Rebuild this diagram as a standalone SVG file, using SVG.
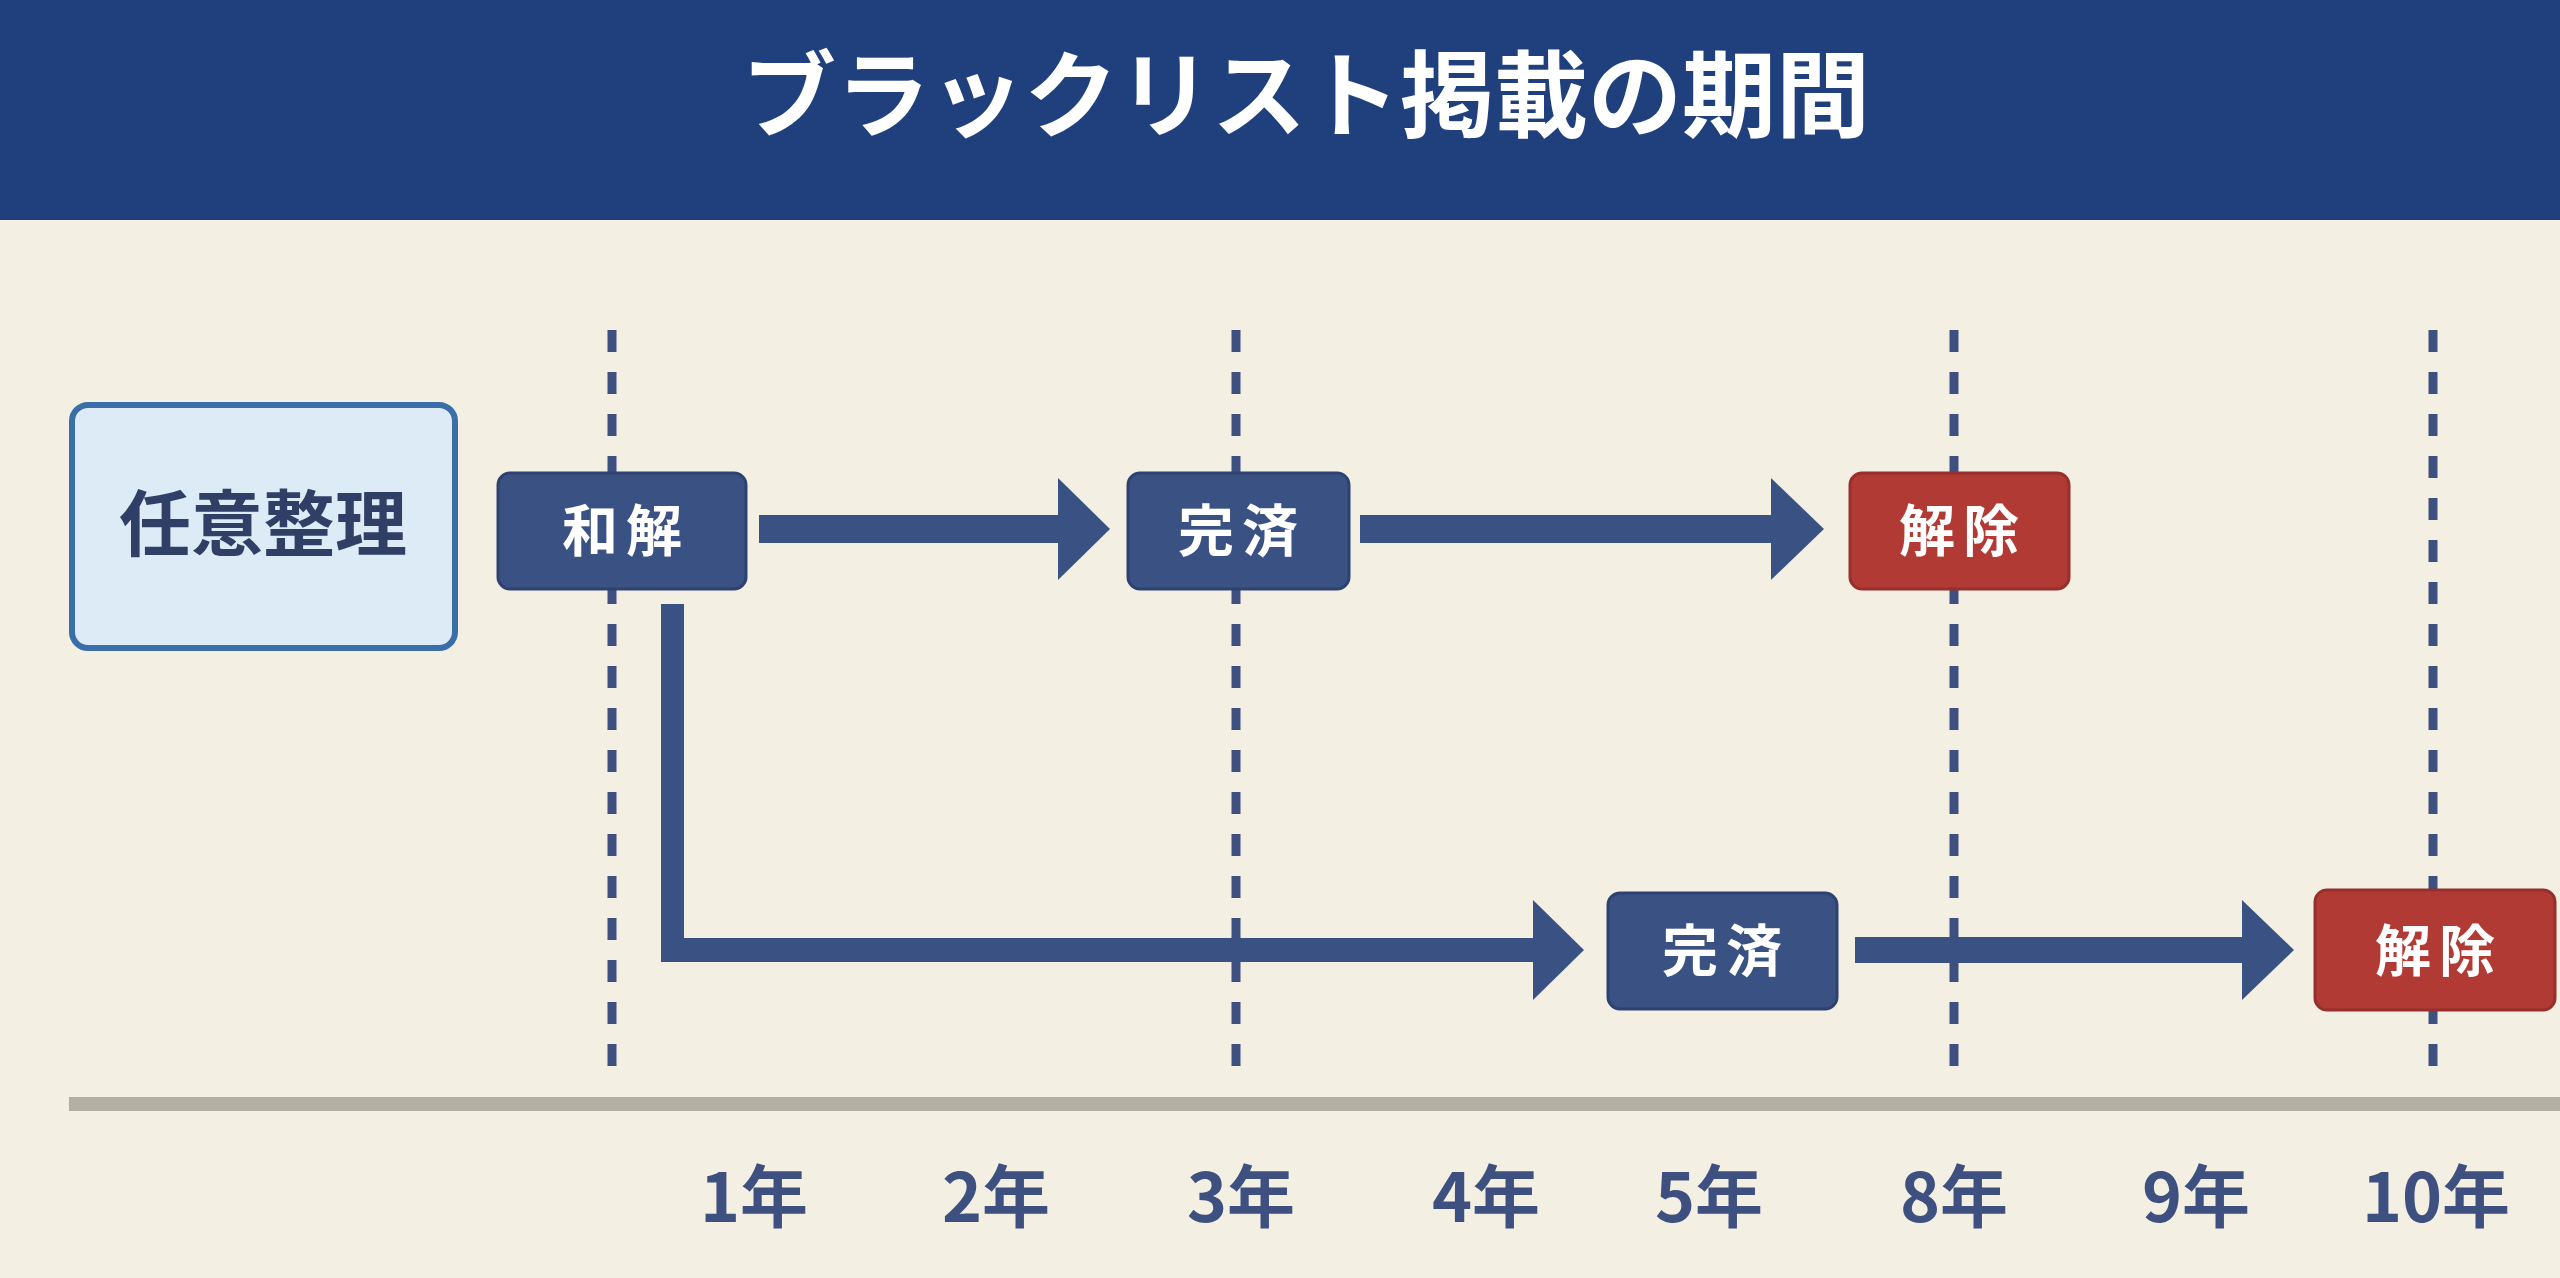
<svg xmlns="http://www.w3.org/2000/svg" width="2560" height="1278" viewBox="0 0 2560 1278">
<style>
.t{font-family:"Noto Sans CJK JP","Liberation Sans",sans-serif;font-weight:bold;text-anchor:middle}
.nb{fill:#3a5184;stroke:#2e4270;stroke-width:3}
.nr{fill:#b13a35;stroke:#96302c;stroke-width:3}
.nt{fill:#ffffff;font-size:56px;letter-spacing:8px}
.yr{fill:#3e5080;font-size:68px}
.dash{stroke:#3e5080;stroke-width:9;stroke-dasharray:22 20}
.ar{fill:#3a5184}
</style>
<rect width="2560" height="1278" fill="#f4efe3"/>
<rect width="2560" height="220" fill="#1f3f7d"/>
<text class="t" x="1306" y="130" font-size="94" fill="#ffffff">ブラックリスト掲載の期間</text>
<g id="grid">
<line class="dash" x1="612" y1="330" x2="612" y2="1080"/>
<line class="dash" x1="1236" y1="330" x2="1236" y2="1080"/>
<line class="dash" x1="1954" y1="330" x2="1954" y2="1080"/>
<line class="dash" x1="2433" y1="330" x2="2433" y2="1080"/>
<rect x="69" y="1097" width="2491" height="14" fill="#b3afa3"/>
</g>
<g id="connectors">
<rect class="ar" x="759" y="515" width="305" height="28"/>
<polygon class="ar" points="1058,478 1110,529 1058,580"/>
<rect class="ar" x="1360" y="515" width="415" height="28"/>
<polygon class="ar" points="1771,478 1824,529 1771,580"/>
<path class="ar" d="M661,604 H684 V938 H1540 V962 H661 Z"/>
<polygon class="ar" points="1533,900 1584,950 1533,1000"/>
<rect class="ar" x="1855" y="937" width="395" height="26"/>
<polygon class="ar" points="2242,900 2294,950 2242,1000"/>
</g>
<g id="n-nini"><rect x="72" y="405" width="383" height="243" rx="16" fill="#dcebf6" stroke="#3a6ea8" stroke-width="6"/><text class="t" x="263" y="550" font-size="72" fill="#2f3f66">任意整理</text></g>
<g id="n-wakai"><rect class="nb" x="498" y="473" width="248" height="116" rx="12"/><text class="t nt" x="626" y="551">和解</text></g>
<g id="n-kansai1"><rect class="nb" x="1128" y="473" width="221" height="116" rx="12"/><text class="t nt" x="1242" y="551">完済</text></g>
<g id="n-kaijo1"><rect class="nr" x="1850" y="473" width="219" height="116" rx="12"/><text class="t nt" x="1963" y="551">解除</text></g>
<g id="n-kansai2"><rect class="nb" x="1608" y="893" width="229" height="116" rx="12"/><text class="t nt" x="1726" y="971">完済</text></g>
<g id="n-kaijo2"><rect class="nr" x="2315" y="890" width="240" height="120" rx="12"/><text class="t nt" x="2439" y="971">解除</text></g>
<g id="years">
<text class="t yr" x="754" y="1222">1年</text>
<text class="t yr" x="996" y="1222">2年</text>
<text class="t yr" x="1241" y="1222">3年</text>
<text class="t yr" x="1486" y="1222">4年</text>
<text class="t yr" x="1709" y="1222">5年</text>
<text class="t yr" x="1954" y="1222">8年</text>
<text class="t yr" x="2196" y="1222">9年</text>
<text class="t yr" x="2436" y="1222">10年</text>
</g>
</svg>
